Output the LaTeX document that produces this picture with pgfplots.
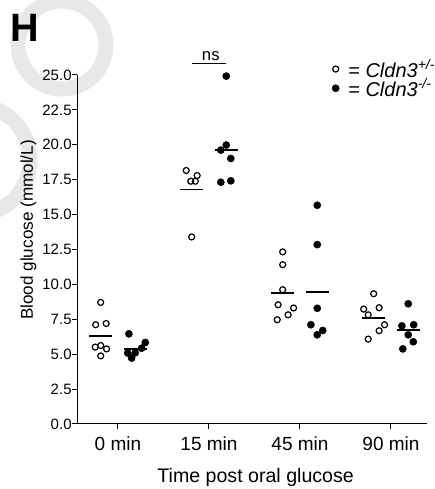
\documentclass[border=0pt]{standalone}
\usepackage{fontspec}
\setmainfont{Liberation Sans}
\usepackage{pgfplots}
\usepackage{pgfplotstable}
\pgfplotsset{compat=1.18}
\definecolor{wm}{HTML}{E8E8E8}

% x = group index + jitter, y = blood glucose (mmol/L)
\pgfplotstableread{
x y
-0.19 8.71
-0.245 7.11
-0.13 7.20
-0.25 5.51
-0.19 5.62
-0.125 5.38
-0.19 4.88
0.75 18.16
0.87 17.80
0.80 17.39
0.85 17.39
0.81 13.40
1.81 12.33
1.81 11.41
1.81 9.62
1.76 8.54
1.93 8.31
1.87 7.82
1.75 7.47
2.81 9.33
2.70 8.23
2.87 8.33
2.75 7.82
2.93 7.11
2.87 6.68
2.75 6.08
}\hetdata

\pgfplotstableread{
x y
0.12 6.46
0.30 5.84
0.26 5.43
0.19 5.10
0.107 5.08
0.15 4.72
1.19 24.92
1.19 19.98
1.13 19.62
1.24 19.02
1.13 17.32
1.24 17.42
2.19 15.67
2.19 12.85
2.19 8.29
2.12 7.11
2.25 6.70
2.19 6.39
3.19 8.61
3.12 7.03
3.25 7.11
3.19 6.39
3.245 5.89
3.13 5.38
}\kodata

\newcommand{\legfont}{\fontsize{20}{20}\selectfont}

\begin{document}
\begin{tikzpicture}
\path[use as bounding box] (0,0) rectangle (434pt,489pt);
% faint watermark behind the chart
\draw[wm, line width=15pt] (62pt,444pt) circle (44pt);
\draw[wm, line width=15pt] ([shift={(-70:55pt)}]-25pt,329pt) arc[start angle=-70, end angle=80, radius=55pt];

\node[anchor=base west, inner sep=0pt, font=\fontsize{39.6}{40}\selectfont\bfseries] at (10pt,447.3pt) {H};

\begin{axis}[
  at={(77.3pt,65pt)}, anchor=south west,
  scale only axis, width=349.7pt, height=349pt,
  xmin=-0.447, xmax=3.396, ymin=0, ymax=25,
  axis lines=left, axis line style={-, line width=1pt},
  tick style={black, line width=1pt}, tick align=outside, major tick length=5pt,
  xtick={0,1,2,3}, xticklabels={0 min,15 min,45 min,90 min},
  ytick={0,2.5,5,7.5,10,12.5,15,17.5,20,22.5,25},
  xticklabel style={font=\fontsize{19}{22}\selectfont, yshift=-4.5pt},
  yticklabel style={font=\fontsize{15}{18}\selectfont, inner xsep=0.5pt,
    /pgf/number format/.cd, fixed, fixed zerofill, precision=1, assume math mode=true},
  xlabel={Time post oral glucose}, ylabel={Blood glucose (mmol/L)},
  every axis x label/.style={at={(axis description cs:0.51,-0.152)}, anchor=center,
    font=\fontsize{19.6}{22}\selectfont},
  every axis y label/.style={at={(axis description cs:-0.140,0.556)}, rotate=90, anchor=center,
    font=\fontsize{17.1}{20}\selectfont},
  legend style={draw=none, fill=none, at={(axis description cs:0.728,1.045)}, anchor=north west,
    font=\legfont, row sep=0pt, inner sep=0pt,
    nodes={inner xsep=2pt, inner ysep=0pt}},
  legend cell align=left,
  clip=false,
]
\addplot[only marks, mark=o, mark size=3pt, mark options={line width=1.2pt}, black] table {\hetdata};
\addlegendentry{\hspace{7pt}= \textit{Cldn3\textsuperscript{+/-}}}
\addplot[only marks, mark=*, mark size=3.6pt, black] table {\kodata};
\addlegendentry{\hspace{7pt}= \textit{Cldn3\textsuperscript{-/-}}}
% group means
\addplot[forget plot, black, line width=1.8pt] coordinates {(-0.315,6.30) (-0.065,6.30)};
\addplot[forget plot, black, line width=1.8pt] coordinates {(0.065,5.39) (0.315,5.39)};
\addplot[forget plot, black, line width=1.8pt] coordinates {(0.685,16.80) (0.935,16.80)};
\addplot[forget plot, black, line width=1.8pt] coordinates {(1.065,19.63) (1.315,19.63)};
\addplot[forget plot, black, line width=1.8pt] coordinates {(1.685,9.36) (1.935,9.36)};
\addplot[forget plot, black, line width=1.8pt] coordinates {(2.065,9.48) (2.315,9.48)};
\addplot[forget plot, black, line width=1.8pt] coordinates {(2.685,7.61) (2.935,7.61)};
\addplot[forget plot, black, line width=1.8pt] coordinates {(3.065,6.73) (3.315,6.73)};
% significance bar
\draw[line width=1pt] (axis cs:0.81,25.84) -- (axis cs:1.19,25.84);
\node[anchor=base, inner sep=0pt, font=\fontsize{16.7}{18}\selectfont] at (axis cs:1.02,26.05) {ns};
\end{axis}
\end{tikzpicture}
\end{document}
